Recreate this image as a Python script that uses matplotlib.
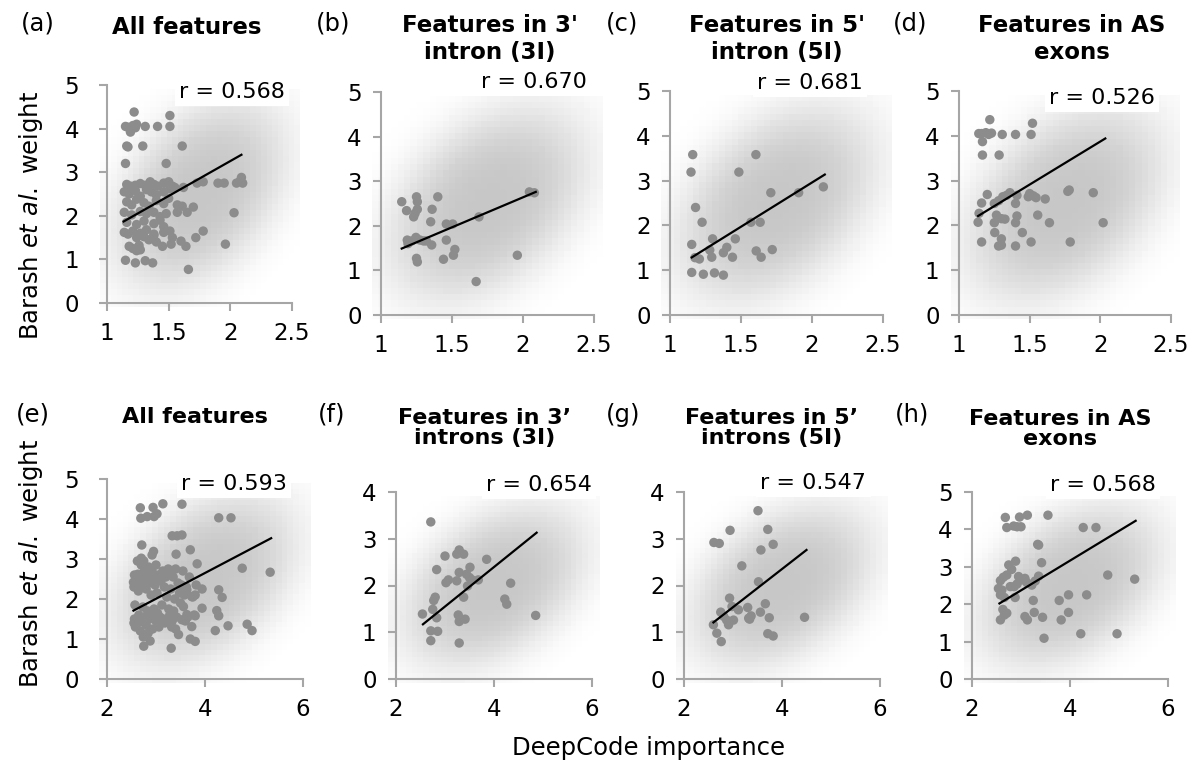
import numpy as np
import matplotlib.pyplot as plt
from matplotlib.ticker import FormatStrFormatter

# ---- data: (DeepCode importance, Barash et al. weight) ----
pts_a = [(1.22, 4.38), (1.15, 4.05), (1.17, 4.03), (1.19, 3.92), (1.21, 4.07), (1.24, 4.10),
         (1.23, 4.02), (1.31, 4.05), (1.41, 4.05), (1.51, 4.05), (1.51, 4.30),
         (1.16, 3.60), (1.17, 3.58), (1.29, 3.60), (1.61, 3.60), (1.15, 3.20), (1.48, 3.20),
         (1.16, 2.72), (1.19, 2.68), (1.23, 2.70), (1.27, 2.74), (1.31, 2.70), (1.35, 2.78),
         (1.38, 2.72), (1.41, 2.68), (1.46, 2.75), (1.50, 2.78), (1.53, 2.68), (1.55, 2.65),
         (1.14, 2.55), (1.18, 2.50), (1.23, 2.58), (1.27, 2.45), (1.32, 2.60), (1.36, 2.55),
         (1.40, 2.48), (1.46, 2.55), (1.51, 2.62),
         (1.16, 2.32), (1.20, 2.25), (1.24, 2.38), (1.30, 2.30), (1.34, 2.22), (1.40, 2.35),
         (1.46, 2.28), (1.50, 2.40), (1.57, 2.25), (1.61, 2.22),
         (1.14, 2.08), (1.20, 2.02), (1.27, 2.10), (1.32, 2.05), (1.38, 2.08), (1.43, 1.98),
         (1.48, 2.05), (1.57, 2.08), (1.65, 2.08),
         (1.16, 1.85), (1.24, 1.80), (1.30, 1.88), (1.38, 1.82), (1.43, 1.90), (1.46, 1.75),
         (1.14, 1.62), (1.17, 1.58), (1.21, 1.65), (1.27, 1.60), (1.32, 1.68), (1.38, 1.58),
         (1.46, 1.62), (1.51, 1.65),
         (1.24, 1.50), (1.30, 1.52), (1.34, 1.45), (1.38, 1.55), (1.40, 1.40), (1.53, 1.50),
         (1.18, 1.30), (1.21, 1.25), (1.26, 1.32), (1.45, 1.30), (1.52, 1.35), (1.60, 1.42),
         (1.64, 1.30), (1.24, 1.20), (1.27, 1.22),
         (1.62, 2.65), (1.73, 2.75), (1.78, 2.78), (1.90, 2.75), (1.95, 2.75), (2.05, 2.75),
         (2.08, 2.80), (2.09, 2.88), (2.10, 2.75), (2.03, 2.07), (1.70, 2.20), (1.78, 1.65),
         (1.72, 1.50), (1.96, 1.35),
         (1.15, 0.98), (1.23, 0.92), (1.31, 0.97), (1.37, 0.92), (1.66, 0.77)]

pts_b = [(1.146, 2.54), (1.18, 2.34), (1.25, 2.65), (1.256, 2.54), (1.23, 2.20), (1.24, 2.28),
         (1.256, 2.37), (1.36, 2.37), (1.40, 2.65), (1.35, 2.09), (1.46, 2.04), (1.505, 2.04),
         (1.185, 1.68), (1.216, 1.66), (1.246, 1.74), (1.275, 1.68), (1.30, 1.66), (1.32, 1.66),
         (1.357, 1.57), (1.46, 1.68), (1.52, 1.47), (1.51, 1.34), (1.25, 1.27), (1.256, 1.19),
         (1.44, 1.25), (1.69, 2.20), (1.67, 0.75), (1.96, 1.34), (2.045, 2.76), (2.08, 2.74),
         (1.19, 1.60)]

pts_c = [(1.16, 3.58), (1.148, 3.19), (1.605, 3.58), (1.485, 3.19), (1.18, 2.40), (1.226, 2.07),
         (1.71, 2.73), (1.906, 2.73), (2.08, 2.86), (1.57, 2.07), (1.635, 2.07), (1.153, 1.575),
         (1.30, 1.70), (1.46, 1.70), (1.28, 1.45), (1.40, 1.51), (1.376, 1.39), (1.44, 1.29),
         (1.176, 1.28), (1.207, 1.25), (1.294, 1.29), (1.607, 1.43), (1.642, 1.29), (1.72, 1.46),
         (1.153, 0.95), (1.235, 0.91), (1.313, 0.94), (1.376, 0.89)]

pts_d = [(1.218, 4.36), (1.14, 4.05), (1.16, 4.05), (1.19, 4.07), (1.21, 4.03), (1.23, 4.06),
         (1.166, 3.87), (1.306, 4.03), (1.40, 4.03), (1.51, 4.03), (1.52, 4.28), (1.166, 3.57),
         (1.284, 3.57), (1.20, 2.69), (1.16, 2.50), (1.142, 2.27), (1.135, 2.07), (1.16, 1.63),
         (1.25, 2.49), (1.28, 2.55), (1.265, 2.23), (1.30, 2.15), (1.325, 2.14), (1.25, 2.06),
         (1.253, 1.84), (1.30, 1.70), (1.28, 1.54), (1.30, 1.56), (1.31, 2.64), (1.336, 2.67),
         (1.36, 2.73), (1.40, 2.49), (1.41, 2.67), (1.40, 2.06), (1.41, 2.21), (1.448, 1.84),
         (1.40, 1.54), (1.49, 2.64), (1.50, 2.71), (1.526, 2.66), (1.545, 2.62), (1.61, 2.59),
         (1.557, 2.23), (1.64, 2.06), (1.51, 1.63), (1.77, 2.76), (1.78, 2.79), (1.95, 2.73),
         (1.787, 1.63), (2.02, 2.06)]

pts_e = [(2.68, 4.28), (2.69, 4.02), (2.82, 4.06), (2.94, 4.29), (2.96, 4.06), (3.02, 4.13),
         (3.14, 4.38), (3.53, 4.37), (4.28, 4.03), (4.53, 4.03), (3.33, 3.58), (3.43, 3.58),
         (3.53, 3.60), (2.71, 3.35), (3.41, 3.12), (3.70, 3.23), (2.95, 3.19), (2.92, 3.10),
         (3.84, 2.88), (4.76, 2.77), (5.33, 2.67), (4.28, 2.23), (4.35, 2.04), (3.94, 2.25),
         (3.80, 2.10), (3.73, 2.06), (3.94, 1.77), (3.63, 1.61), (3.80, 1.58), (3.73, 1.31),
         (4.24, 1.71), (4.28, 1.58), (4.21, 1.21), (4.47, 1.33), (4.86, 1.37), (4.96, 1.21),
         (3.70, 1.00), (3.80, 0.94), (3.31, 0.77), (2.75, 0.82), (3.46, 1.11), (3.53, 1.48),
         (3.56, 1.81), (3.55, 2.15), (3.63, 2.23),
         (2.54, 2.42), (2.56, 2.60), (2.55, 2.30), (2.57, 1.85), (2.55, 1.40), (2.58, 1.30),
         (2.56, 1.50), (2.60, 2.45), (2.62, 2.95), (2.63, 2.62), (2.64, 2.20), (2.65, 1.60),
         (2.66, 1.42), (2.68, 1.20), (2.70, 2.85), (2.70, 3.02), (2.72, 2.55), (2.72, 2.35),
         (2.73, 1.80), (2.74, 1.05), (2.75, 2.95), (2.76, 2.70), (2.77, 1.55), (2.78, 1.40),
         (2.79, 2.45), (2.80, 2.25), (2.80, 1.35), (2.82, 2.60), (2.83, 1.70), (2.84, 1.15),
         (2.85, 2.80), (2.86, 2.40), (2.87, 1.50), (2.88, 0.95), (2.90, 2.10), (2.90, 1.60),
         (2.92, 2.70), (2.93, 1.25), (2.95, 2.55), (2.96, 1.75), (2.98, 2.35), (3.00, 1.45),
         (3.00, 2.85), (3.02, 2.15), (3.03, 1.65), (3.05, 2.60), (3.06, 1.30), (3.08, 1.55),
         (3.10, 2.45), (3.12, 1.85), (3.14, 2.70), (3.15, 1.50), (3.17, 2.30), (3.18, 1.40),
         (3.20, 2.55), (3.22, 2.05), (3.25, 2.75), (3.26, 1.75), (3.28, 1.60), (3.30, 2.70),
         (3.30, 2.25), (3.32, 1.30), (3.33, 1.45), (3.35, 2.55), (3.36, 1.70), (3.38, 2.00),
         (3.40, 2.75), (3.40, 1.25), (3.42, 1.55), (3.45, 2.40), (3.48, 2.15), (3.50, 1.90),
         (3.52, 2.35), (3.55, 2.70), (3.58, 2.10), (3.60, 1.45), (3.62, 2.30), (3.65, 1.55),
         (3.68, 2.55), (3.75, 2.05), (3.78, 1.60), (3.82, 2.35)]

pts_f = [(2.71, 3.36), (3.00, 2.63), (3.24, 2.67), (3.29, 2.76), (3.38, 2.67), (2.83, 2.34),
         (3.29, 2.28), (3.51, 2.39), (3.85, 2.56), (3.07, 2.12), (3.02, 2.06), (3.24, 2.10),
         (3.44, 2.24), (3.50, 2.17), (3.55, 2.12), (3.68, 2.12), (3.46, 1.99), (4.34, 2.05),
         (2.80, 1.75), (2.77, 1.68), (3.38, 1.75), (2.75, 1.49), (2.83, 1.31), (2.54, 1.39),
         (3.27, 1.37), (3.32, 1.28), (3.41, 1.28), (3.29, 1.23), (4.22, 1.71), (4.26, 1.60),
         (4.85, 1.36), (2.71, 1.03), (2.85, 1.02), (2.71, 0.82), (3.29, 0.77)]

pts_g = [(3.51, 3.60), (2.94, 3.18), (3.71, 3.20), (2.61, 2.92), (2.72, 2.90), (3.82, 2.88),
         (3.57, 2.76), (3.18, 2.42), (3.52, 2.08), (2.93, 1.73), (2.98, 1.55), (3.11, 1.48),
         (3.30, 1.53), (3.66, 1.61), (3.56, 1.43), (2.75, 1.43), (2.81, 1.34), (2.87, 1.26),
         (2.91, 1.16), (3.01, 1.26), (3.32, 1.30), (3.37, 1.35), (3.34, 1.28), (3.74, 1.31),
         (2.60, 1.16), (2.67, 0.98), (2.76, 0.80), (3.71, 0.97), (3.82, 0.92), (4.46, 1.32)]

pts_h = [(2.68, 4.32), (2.71, 4.05), (2.85, 4.09), (2.92, 4.07), (3.00, 4.07), (2.97, 4.33),
         (3.13, 4.38), (3.55, 4.38), (4.27, 4.05), (4.53, 4.05), (3.34, 3.60), (3.36, 3.58),
         (3.42, 3.11), (2.89, 3.15), (2.75, 3.05), (2.81, 2.93), (4.77, 2.78), (5.32, 2.67),
         (3.36, 2.75), (3.29, 2.62), (3.22, 2.51), (2.58, 2.63), (2.64, 2.72), (2.71, 2.78),
         (2.54, 2.42), (2.61, 2.38), (2.78, 2.47), (2.95, 2.74), (3.02, 2.65), (3.08, 2.69),
         (3.12, 2.58), (2.92, 2.54), (2.86, 2.47), (2.58, 2.25), (2.66, 2.18), (2.88, 2.18),
         (3.25, 2.10), (3.78, 2.10), (3.97, 2.25), (4.34, 2.25), (2.63, 1.86), (2.71, 1.76),
         (2.66, 1.71), (2.58, 1.58), (3.08, 1.67), (3.13, 1.58), (3.27, 1.78), (3.44, 1.65),
         (3.82, 1.58), (3.97, 1.78), (4.22, 1.21), (4.96, 1.21), (3.47, 1.09)]

# trend lines (x0, y0, x1, y1) as drawn in the figure
fits = [(1.135, 1.87, 2.09, 3.40), (1.146, 1.49, 2.09, 2.76), (1.153, 1.285, 2.09, 3.135),
        (1.135, 2.21, 2.035, 3.94), (2.54, 1.71, 5.35, 3.52), (2.55, 1.17, 4.87, 3.13),
        (2.60, 1.21, 4.50, 2.76), (2.56, 2.02, 5.34, 4.23)]
r_values = [0.568, 0.670, 0.681, 0.526, 0.593, 0.654, 0.547, 0.568]
letters = ['(a)', '(b)', '(c)', '(d)', '(e)', '(f)', '(g)', '(h)']
titles = ['All features', "Features in 3'\nintron (3I)", "Features in 5'\nintron (5I)",
          'Features in AS\nexons',
          'All features', 'Features in 3\u2019\nintrons (3I)', 'Features in 5\u2019\nintrons (5I)',
          'Features in AS\nexons']
top_xticks = [1, 1.5, 2, 2.5]
bot_xticks = [2, 4, 6]
ymax = [5, 5, 5, 5, 5, 4, 4, 5]

# ---- layout (pixel boxes left, top, right, bottom) ----
W, H = 1197, 762
boxes = [(107, 85, 292, 303), (381, 92, 594, 315), (670, 91, 883, 315), (959, 91, 1171, 315),
         (107, 479, 303, 679), (396, 492, 592, 679), (684, 492, 880, 679), (972, 492, 1168, 679)]
letter_pos = [(38, 24), (333, 23), (622, 23), (910, 23), (33, 415), (332, 415), (623, 415), (912, 415)]
title_pos = [(187, 28), (490, 39), (777, 39), (1072, 39), (195, 417), (485, 428), (772, 428), (1060, 429)]
r_pos = [(0.962, 0.97), (0.967, 1.045), (0.906, 1.036), (0.925, 0.97),
         (0.918, 0.975), (1.0, 1.037), (0.93, 1.048), (0.94, 1.037)]

plt.rcParams['font.family'] = 'DejaVu Sans'
axis_gray = '#a6a6a6'
dot_gray = '#8c8c8c'

fig = plt.figure(figsize=(W / 100, H / 100), dpi=100)


def soft_blob(ax):
    # pixelated soft shadow behind the plot area
    n = 36
    ext = (-0.04, 1.04, -0.02, 0.98)
    u = np.linspace(ext[0], ext[1], n)
    v = np.linspace(ext[2], ext[3], n)
    U, V = np.meshgrid(u, v)
    ang = np.deg2rad(40)
    du, dv = U - 0.5, V - 0.5
    a = du * np.cos(ang) + dv * np.sin(ang)
    b = -du * np.sin(ang) + dv * np.cos(ang)
    r2 = (a / 0.55) ** 2 + (b / 0.36) ** 2
    shade = 1 - 0.22 * np.exp(-r2 ** 1.6)
    ax.imshow(shade, cmap='gray', vmin=0, vmax=1, origin='lower', extent=ext,
              transform=ax.transAxes, interpolation='nearest', aspect='auto',
              zorder=0, clip_on=False)


all_pts = [pts_a, pts_b, pts_c, pts_d, pts_e, pts_f, pts_g, pts_h]
for i in range(8):
    l, t, r, b = boxes[i]
    ax = fig.add_axes([l / W, 1 - b / H, (r - l) / W, (b - t) / H])
    soft_blob(ax)
    pts = np.array(all_pts[i])
    ax.scatter(pts[:, 0], pts[:, 1], s=46, color=dot_gray, edgecolors='none', zorder=3)
    x0, y0, x1, y1 = fits[i]
    ax.plot([x0, x1], [y0, y1], color='black', lw=1.6, zorder=4)

    if i < 4:
        ax.set_xlim(1, 2.5)
        ax.set_xticks(top_xticks)
    else:
        ax.set_xlim(2, 6)
        ax.set_xticks(bot_xticks)
    ax.set_ylim(0, ymax[i])
    ax.set_yticks(range(0, ymax[i] + 1))
    ax.xaxis.set_major_formatter(FormatStrFormatter('%g'))
    ax.set_facecolor('none')
    for s in ['top', 'right']:
        ax.spines[s].set_visible(False)
    for s in ['left', 'bottom']:
        ax.spines[s].set_color(axis_gray)
        ax.spines[s].set_linewidth(1.5)
        ax.spines[s].set_zorder(5)
    ax.tick_params(direction='out', length=6, width=1.5, color=axis_gray, labelsize=16.5)
    ax.tick_params(axis='x', pad=8)
    ax.tick_params(axis='y', pad=8 if i not in (0, 4) else 14)

    ax.text(r_pos[i][0], r_pos[i][1], 'r = %.3f' % r_values[i], transform=ax.transAxes,
            ha='right', va='center', fontsize=16, zorder=6,
            bbox=dict(facecolor='white', edgecolor='none', pad=3))

    fig.text(letter_pos[i][0] / W, 1 - letter_pos[i][1] / H, letters[i],
             ha='center', va='center', fontsize=17.5)
    fig.text(title_pos[i][0] / W, 1 - title_pos[i][1] / H, titles[i], ha='center', va='center',
             fontsize=16.5 if i < 4 else 16, fontweight='bold',
             linespacing=1.2 if i < 4 else 1.05)

fig.text(31 / W, 1 - 215 / H, r'Barash $\mathit{et\ al.}$ weight', rotation=90,
         ha='center', va='center', fontsize=17.5)
fig.text(31 / W, 1 - 563 / H, r'Barash $\mathit{et\ al.}$ weight', rotation=90,
         ha='center', va='center', fontsize=17.5)
fig.text(648 / W, 1 - 748 / H, 'DeepCode importance', ha='center', va='center', fontsize=17.5)

fig.savefig('out.png', dpi=100)
